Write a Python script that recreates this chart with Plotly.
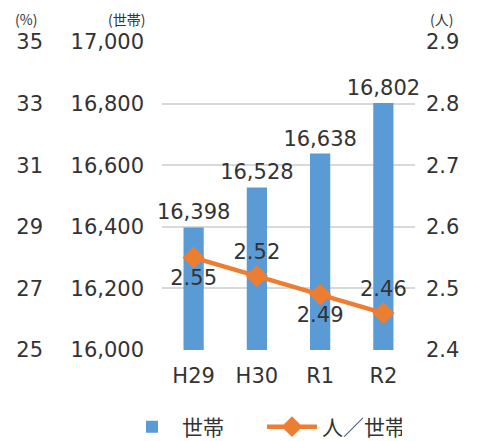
import plotly.graph_objects as go

categories = ["H29", "H30", "R1", "R2"]
households = [16398, 16528, 16638, 16802]
persons_per_household = [2.55, 2.52, 2.49, 2.46]
line_text_positions = ["bottom center", "top center", "bottom center", "top center"]
pct_ticks = [25, 27, 29, 31, 33, 35]

FONT = "DejaVu Sans, Noto Sans CJK JP"
CJK = "Noto Sans CJK JP"
TXT = "#333333"
BLUE = "#5B9BD5"
ORANGE = "#ED7D31"

# the page adds an 8px body margin, so the figure is 8px smaller on each side
W, H = 473, 433
x0, x1 = 154, 407
y_top, y_bot = 34, 342

fig = go.Figure()

fig.add_trace(go.Bar(
    x=categories, y=households, name="世帯",
    marker=dict(color=BLUE, line=dict(width=0)),
    width=0.32,
    text=[f"{v:,}" for v in households], textposition="outside",
    constraintext="none",
    textfont=dict(family=FONT, size=21, color=TXT),
    cliponaxis=False,
    yaxis="y",
))

fig.add_trace(go.Scatter(
    x=categories, y=persons_per_household, name="人／世帯",
    mode="lines+markers+text",
    line=dict(color=ORANGE, width=4.5),
    marker=dict(symbol="diamond", size=17, color=ORANGE),
    text=[f"{v:.2f}" for v in persons_per_household],
    textposition=line_text_positions,
    textfont=dict(family=FONT, size=21, color=TXT),
    cliponaxis=False,
    yaxis="y2",
))

# invisible trace so the (%) axis is rendered
fig.add_trace(go.Scatter(
    x=categories, y=[None] * len(categories), showlegend=False,
    hoverinfo="skip", mode="lines", yaxis="y3",
))

tickfont = dict(family=FONT, size=21, color=TXT)

fig.update_layout(
    width=W, height=H,
    margin=dict(l=0, r=0, t=0, b=0, autoexpand=False),
    paper_bgcolor="white", plot_bgcolor="white",
    font=dict(family=FONT, color=TXT),
    xaxis=dict(
        domain=[x0 / W, x1 / W], automargin=False,
        showgrid=False, showline=False, zeroline=False,
        tickfont=tickfont, ticks="", ticklabelstandoff=11,
    ),
    yaxis=dict(
        range=[16000, 17000], dtick=200, tickformat=",",
        domain=[1 - y_bot / H, 1 - y_top / H], automargin=False,
        showgrid=True, gridcolor="#D9D9D9", gridwidth=1.5,
        zeroline=False, showline=False, ticks="",
        tickfont=tickfont, ticklabelstandoff=17,
    ),
    yaxis2=dict(
        range=[2.4, 2.9], dtick=0.1, tickformat=".1f", automargin=False,
        overlaying="y", side="right", anchor="x",
        showgrid=False, zeroline=False, showline=False, ticks="",
        tickfont=tickfont, ticklabelstandoff=10,
    ),
    yaxis3=dict(
        range=[25, 35], tickvals=pct_ticks, automargin=False,
        overlaying="y", side="left", anchor="free", position=35 / W,
        showgrid=False, zeroline=False, showline=False, ticks="",
        tickfont=tickfont, ticklabelstandoff=0,
    ),
    legend=dict(
        orientation="h", x=114 / W, xanchor="left", y=1 - 419 / H, yanchor="middle",
        font=dict(family=CJK, size=21, color=TXT),
        itemwidth=50, entrywidth=75,
    ),
    annotations=[
        dict(text="(%)", x=6 / W, y=1, xref="paper", yref="paper",
             xanchor="left", yanchor="top", showarrow=False, borderpad=0,
             font=dict(family=CJK, size=14, color=TXT)),
        dict(text="(世帯)", x=138 / W, y=1, xref="paper", yref="paper",
             xanchor="right", yanchor="top", showarrow=False, borderpad=0,
             font=dict(family=CJK, size=14, color=TXT)),
        dict(text="(人)", x=421 / W, y=1, xref="paper", yref="paper",
             xanchor="left", yanchor="top", showarrow=False, borderpad=0,
             font=dict(family=CJK, size=14, color=TXT)),
    ],
)

fig.write_html("out.html")
